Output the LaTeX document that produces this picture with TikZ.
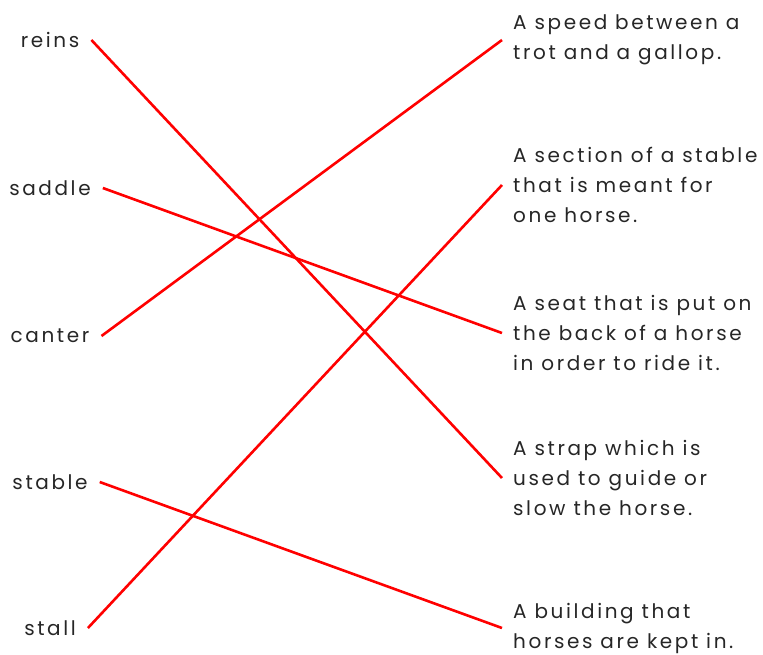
\documentclass[tikz,border=0pt]{standalone}
\usepackage{fontspec}
\setmainfont{Poppins}[LetterSpace=13]

\begin{document}
\begin{tikzpicture}[
    x=1pt,
    y=-1pt,
    word/.style={font=\fontsize{20}{30}\selectfont, text=black!85, inner xsep=12pt, inner ysep=0pt},
    meaning/.style={font=\fontsize{20}{30}\selectfont, text=black!85, align=left, anchor=west, inner xsep=11pt, inner ysep=0pt},
    match/.style={draw, red, line width=2.6pt}
]
  \useasboundingbox (0,0) rectangle (763,654);
  % Words on the left
  \foreach \name/\yPos in {reins/40, saddle/188, canter/336, stable/482, stall/628} {
    \node[word] (\name) at (50,\yPos) {\name};
  }
  % Meanings on the right
  \foreach \id/\yPos/\txt in {
      gait/40/{A speed between a\\trot and a gallop.},
      box/185/{A section of a stable\\that is meant for\\one horse.},
      seat/333/{A seat that is put on\\the back of a horse\\in order to ride it.},
      strap/478/{A strap which is\\used to guide or\\slow the horse.},
      barn/628/{A building that\\horses are kept in.}} {
    \node[meaning] (\id) at (502,\yPos) {\txt};
  }
  % Matching lines
  \foreach \from/\to in {reins/strap, saddle/seat, canter/gait, stable/barn, stall/box} {
    \draw[match] (\from.east) -- (\to.west);
  }
\end{tikzpicture}
\end{document}
